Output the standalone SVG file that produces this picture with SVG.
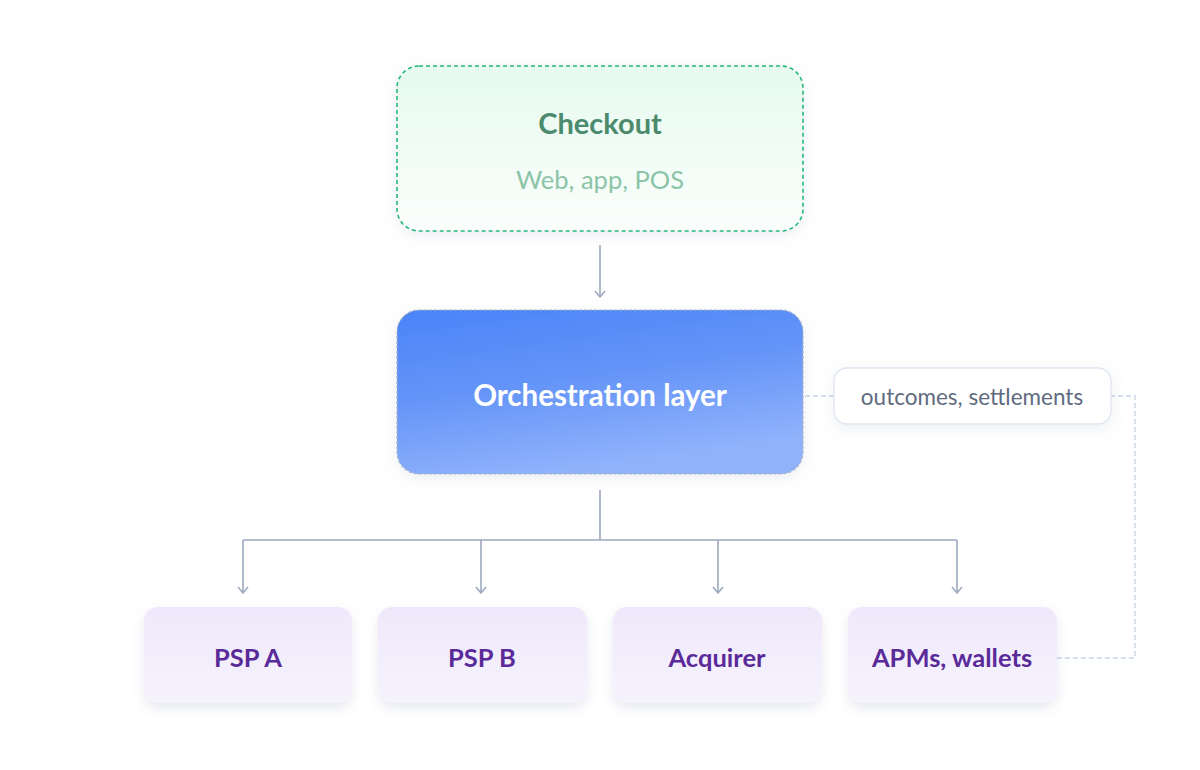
<svg xmlns="http://www.w3.org/2000/svg" width="1200" height="770" viewBox="0 0 1200 770">
<defs>
<linearGradient id="gCheck" x1="0" y1="0" x2="0" y2="1"><stop offset="0" stop-color="#e6faef"/><stop offset="1" stop-color="#fbfefc"/></linearGradient>
<linearGradient id="gOrch" x1="0" y1="0" x2="0.35" y2="1"><stop offset="0" stop-color="#4a84f8"/><stop offset="0.5" stop-color="#6494f8"/><stop offset="1" stop-color="#8fb2fb"/></linearGradient>
<linearGradient id="gPsp" x1="0" y1="0" x2="0" y2="1"><stop offset="0" stop-color="#efe8fb"/><stop offset="1" stop-color="#f6f3fd"/></linearGradient>
<filter id="sh" x="-20%" y="-20%" width="140%" height="150%"><feDropShadow dx="0" dy="5" stdDeviation="6" flood-color="#7a88a8" flood-opacity="0.18"/></filter>
<filter id="sh2" x="-20%" y="-20%" width="140%" height="150%"><feDropShadow dx="0" dy="4" stdDeviation="7" flood-color="#7a88a8" flood-opacity="0.14"/></filter>
<marker id="arr" viewBox="0 0 10 12" refX="9" refY="6" markerWidth="10" markerHeight="12" markerUnits="userSpaceOnUse" orient="auto">
<path d="M3 1 L9 6 L3 11" fill="none" stroke="#9aa8bd" stroke-width="1.5"/>
</marker>
</defs>
<style>
.t{font-family:Lato,"Open Sans","Liberation Sans",sans-serif;text-anchor:middle;dominant-baseline:central}
.b{font-weight:700}
.psp{fill:url(#gPsp);filter:url(#sh)}
.pt{fill:#5b2a99;font-size:25.5px}
.line{fill:none;stroke:#9aa8bd;stroke-width:1.6}
.dash{fill:none;stroke:#c9d5e6;stroke-width:1.4;stroke-dasharray:5 3}
</style>
<rect width="1200" height="770" fill="#ffffff"/>
<g id="connectors">
<line class="line" x1="600" y1="245" x2="600" y2="297" marker-end="url(#arr)"/>
<path class="line" d="M600 490 V540 M243 540 H957"/>
<line class="line" x1="243" y1="540" x2="243" y2="593" marker-end="url(#arr)"/>
<line class="line" x1="481" y1="540" x2="481" y2="593" marker-end="url(#arr)"/>
<line class="line" x1="718" y1="540" x2="718" y2="593" marker-end="url(#arr)"/>
<line class="line" x1="957" y1="540" x2="957" y2="593" marker-end="url(#arr)"/>
<path class="dash" d="M1057 658 H1135 V396 H1111"/>
<path class="dash" d="M834 396 H803"/>
</g>
<g id="checkout">
<rect x="397" y="66" width="406" height="165" rx="22" fill="url(#gCheck)" stroke="#27b879" stroke-width="1.6" stroke-dasharray="4 3" filter="url(#sh2)"/>
<text class="t b" x="600" y="122" font-size="29" fill="#4b8a6c">Checkout</text>
<text class="t" x="600" y="179" font-size="25.5" fill="#8cc4a7">Web, app, POS</text>
</g>
<g id="orchestration">
<rect x="397" y="310" width="406" height="164" rx="22" fill="url(#gOrch)" stroke="#aab4c4" stroke-width="1.2" stroke-dasharray="3 2" filter="url(#sh2)"/>
<text class="t b" x="600" y="394" font-size="29.5" fill="#ffffff">Orchestration layer</text>
</g>
<g id="label-outcomes">
<rect x="834" y="368" width="277" height="56" rx="13" fill="#ffffff" stroke="#dfe5ee" stroke-width="1.3" filter="url(#sh2)"/>
<text class="t" x="972" y="396" font-size="22.5" fill="#5f6b7e">outcomes, settlements</text>
</g>
<g id="psp-a">
<rect class="psp" x="144" y="607" width="208" height="96" rx="14"/>
<text class="t b pt" x="248" y="657">PSP A</text>
</g>
<g id="psp-b">
<rect class="psp" x="378" y="607" width="209" height="96" rx="14"/>
<text class="t b pt" x="482" y="657">PSP B</text>
</g>
<g id="acquirer">
<rect class="psp" x="613" y="607" width="209" height="96" rx="14"/>
<text class="t b pt" x="717" y="657">Acquirer</text>
</g>
<g id="apms">
<rect class="psp" x="848" y="607" width="209" height="96" rx="14"/>
<text class="t b pt" x="952" y="657">APMs, wallets</text>
</g>
</svg>
